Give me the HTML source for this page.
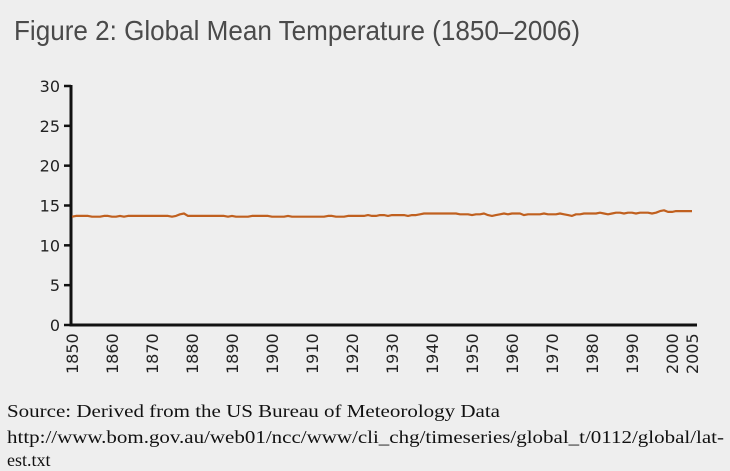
<!DOCTYPE html>
<html><head><meta charset="utf-8"><style>
body{margin:0;background:#eeeeee;}
svg{display:block;}
</style></head><body>
<svg width="730" height="471" viewBox="0 0 730 471" xmlns="http://www.w3.org/2000/svg">
<rect width="730" height="471" fill="#eeeeee"/>
<text x="14" y="40" font-family="Liberation Sans, sans-serif" font-size="28" fill="#4a4a4a" textLength="566" lengthAdjust="spacingAndGlyphs">Figure 2: Global Mean Temperature (1850–2006)</text>
<g id="yaxis"></g>
<g id="xaxis"></g>
<path id="series" fill="none" stroke="#c0601f" stroke-width="2.2" stroke-linejoin="round"/>
<text x="7" y="417" font-family="Liberation Serif, serif" font-size="18" fill="#111" textLength="493" lengthAdjust="spacingAndGlyphs">Source: Derived from the US Bureau of Meteorology Data</text>
<text x="7" y="443" font-family="Liberation Serif, serif" font-size="18" fill="#111" textLength="717" lengthAdjust="spacingAndGlyphs">http://www.bom.gov.au/web01/ncc/www/cli_chg/timeseries/global_t/0112/global/lat-</text>
<text x="7" y="466" font-family="Liberation Serif, serif" font-size="18" fill="#111">est.txt</text>
</svg>
<script>
const startYear = 1850;
const temps = [
13.6,13.7,13.7,13.7,13.7,13.6,13.6,13.6,13.7,13.7,
13.6,13.6,13.7,13.6,13.7,13.7,13.7,13.7,13.7,13.7,
13.7,13.7,13.7,13.7,13.7,13.6,13.7,13.9,14.0,13.7,
13.7,13.7,13.7,13.7,13.7,13.7,13.7,13.7,13.7,13.6,
13.7,13.6,13.6,13.6,13.6,13.7,13.7,13.7,13.7,13.7,
13.6,13.6,13.6,13.6,13.7,13.6,13.6,13.6,13.6,13.6,
13.6,13.6,13.6,13.6,13.7,13.7,13.6,13.6,13.6,13.7,
13.7,13.7,13.7,13.7,13.8,13.7,13.7,13.8,13.8,13.7,
13.8,13.8,13.8,13.8,13.7,13.8,13.8,13.9,14.0,14.0,
14.0,14.0,14.0,14.0,14.0,14.0,14.0,13.9,13.9,13.9,
13.8,13.9,13.9,14.0,13.8,13.7,13.8,13.9,14.0,13.9,
14.0,14.0,14.0,13.8,13.9,13.9,13.9,13.9,14.0,13.9,
13.9,13.9,14.0,13.9,13.8,13.7,13.9,13.9,14.0,14.0,
14.0,14.0,14.1,14.0,13.9,14.0,14.1,14.1,14.0,14.1,
14.1,14.0,14.1,14.1,14.1,14.0,14.1,14.3,14.4,14.2,
14.2,14.3,14.3,14.3,14.3,14.3
];
const yTicks = [0,5,10,15,20,25,30];
const xTicks = ["1850","1860","1870","1880","1890","1900","1910","1920","1930","1940","1950","1960","1970","1980","1990","2000","2005"];

const NS = "http://www.w3.org/2000/svg";
const x0 = 72, x1 = 692, yb = 325, yt = 86;
const xScale = yr => x0 + (yr - 1850) / (2005 - 1850) * (x1 - x0);
const yScale = v => yb - v / 30 * (yb - yt);

function mk(tag, attrs, parent) {
  const e = document.createElementNS(NS, tag);
  for (const k in attrs) e.setAttribute(k, attrs[k]);
  parent.appendChild(e);
  return e;
}
const ya = document.getElementById('yaxis');
const xa = document.getElementById('xaxis');
const yLine = mk('line', {x1:71, y1:yt-1, x2:71, y2:yb+1.5, stroke:'#111', 'stroke-width':3}, ya);


yTicks.forEach(t => {
  const y = yScale(t);
  const tk = mk('line', {x1:64, y1:y, x2:71, y2:y, stroke:'#111', 'stroke-width':2.5}, ya);
  
  
  const lb = mk('text', {x:60, y:y+6, 'text-anchor':'end', 'font-family':'DejaVu Sans, sans-serif', 'font-size':16, fill:'#222'}, ya);
  
  
  lb.textContent = t;
});
const xLine = mk('line', {x1:70, y1:yb, x2:697, y2:yb, stroke:'#111', 'stroke-width':3}, xa);


xTicks.forEach(t => {
  const x = xScale(+t);
  const lb = mk('text', {x:0, y:0, transform:`translate(${x+6},${374}) rotate(-90)`, 'font-family':'DejaVu Sans, sans-serif', 'font-size':16, fill:'#222'}, xa);
  
  
  lb.textContent = t;
});
let d = '';
temps.forEach((v, i) => {
  d += (i ? 'L' : 'M') + xScale(startYear + i).toFixed(1) + ',' + yScale(v).toFixed(1);
});
document.getElementById('series').setAttribute('d', d);
</script>
</body></html>
